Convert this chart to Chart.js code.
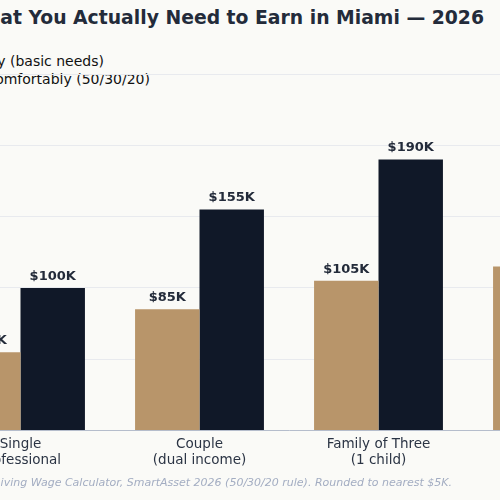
<!DOCTYPE html>
<html><head><meta charset="utf-8">
<script src="https://cdn.jsdelivr.net/npm/chart.js@4"></script>
<style>
body{margin:0;background:#fafaf7;width:500px;height:500px;overflow:hidden;position:relative;font-family:"DejaVu Sans",sans-serif;}
#wrap{position:absolute;left:-69.5px;top:0;width:716px;height:480px;}
.t{position:absolute;white-space:nowrap;}
</style></head><body>
<div class="t" style="right:16px;top:7px;font-size:18.8px;font-weight:bold;color:#232b3a;">What You Actually Need to Earn in Miami — 2026</div>
<div class="t" style="right:396px;top:53px;font-size:14px;color:#111;">Can get by (basic needs)</div>
<div class="t" style="right:350px;top:71px;font-size:14px;color:#111;">Live comfortably (50/30/20)</div>
<div id="wrap"><canvas id="c"></canvas></div>
<div class="t" style="right:48px;top:476px;font-size:11px;font-style:italic;color:#a3adc2;">Sources: MIT Living Wage Calculator, SmartAsset 2026 (50/30/20 rule). Rounded to nearest $5K.</div>
<script>
const categories=[["Single","Professional"],["Couple","(dual income)"],["Family of Three","(1 child)"],["Family of Four","(2 children)"]];
const basicNeeds=[55,85,105,115];
const comfortable=[100,155,190,230];
const yTicks=[0,50,100,150,200,250];
const labelPlugin={id:'lbl',afterDatasetsDraw(ch){const c=ch.ctx;c.save();c.font='bold 13px "DejaVu Sans"';c.fillStyle='#232b3a';c.textAlign='center';c.textBaseline='bottom';
ch.data.datasets.forEach((ds,i)=>{ch.getDatasetMeta(i).data.forEach((b,j)=>{c.fillText('$'+ds.data[j]+'K',b.x,b.y-5);});});c.restore();}};
new Chart(document.getElementById('c'),{type:'bar',
data:{labels:categories,datasets:[
{label:'Can get by (basic needs)',data:basicNeeds,backgroundColor:'#b8956a'},
{label:'Live comfortably (50/30/20)',data:comfortable,backgroundColor:'#101828'}]},
options:{responsive:true,maintainAspectRatio:false,animation:false,
categoryPercentage:0.72,barPercentage:1,
layout:{padding:{top:74,bottom:10,left:0,right:0}},
plugins:{legend:{display:false},tooltip:{enabled:false}},
scales:{
x:{grid:{display:false,drawTicks:true,tickLength:5,tickColor:'#8a93a6'},border:{color:'#b5bdcc'},ticks:{color:'#2b3444',font:{size:13.5,family:'DejaVu Sans'},padding:1}},
y:{min:0,max:250,afterBuildTicks(a){a.ticks=yTicks.map(v=>({value:v}));},grid:{color:'#e8eaee',drawTicks:false},border:{display:false},ticks:{display:false}}}}
,plugins:[labelPlugin]});
</script></body></html>
